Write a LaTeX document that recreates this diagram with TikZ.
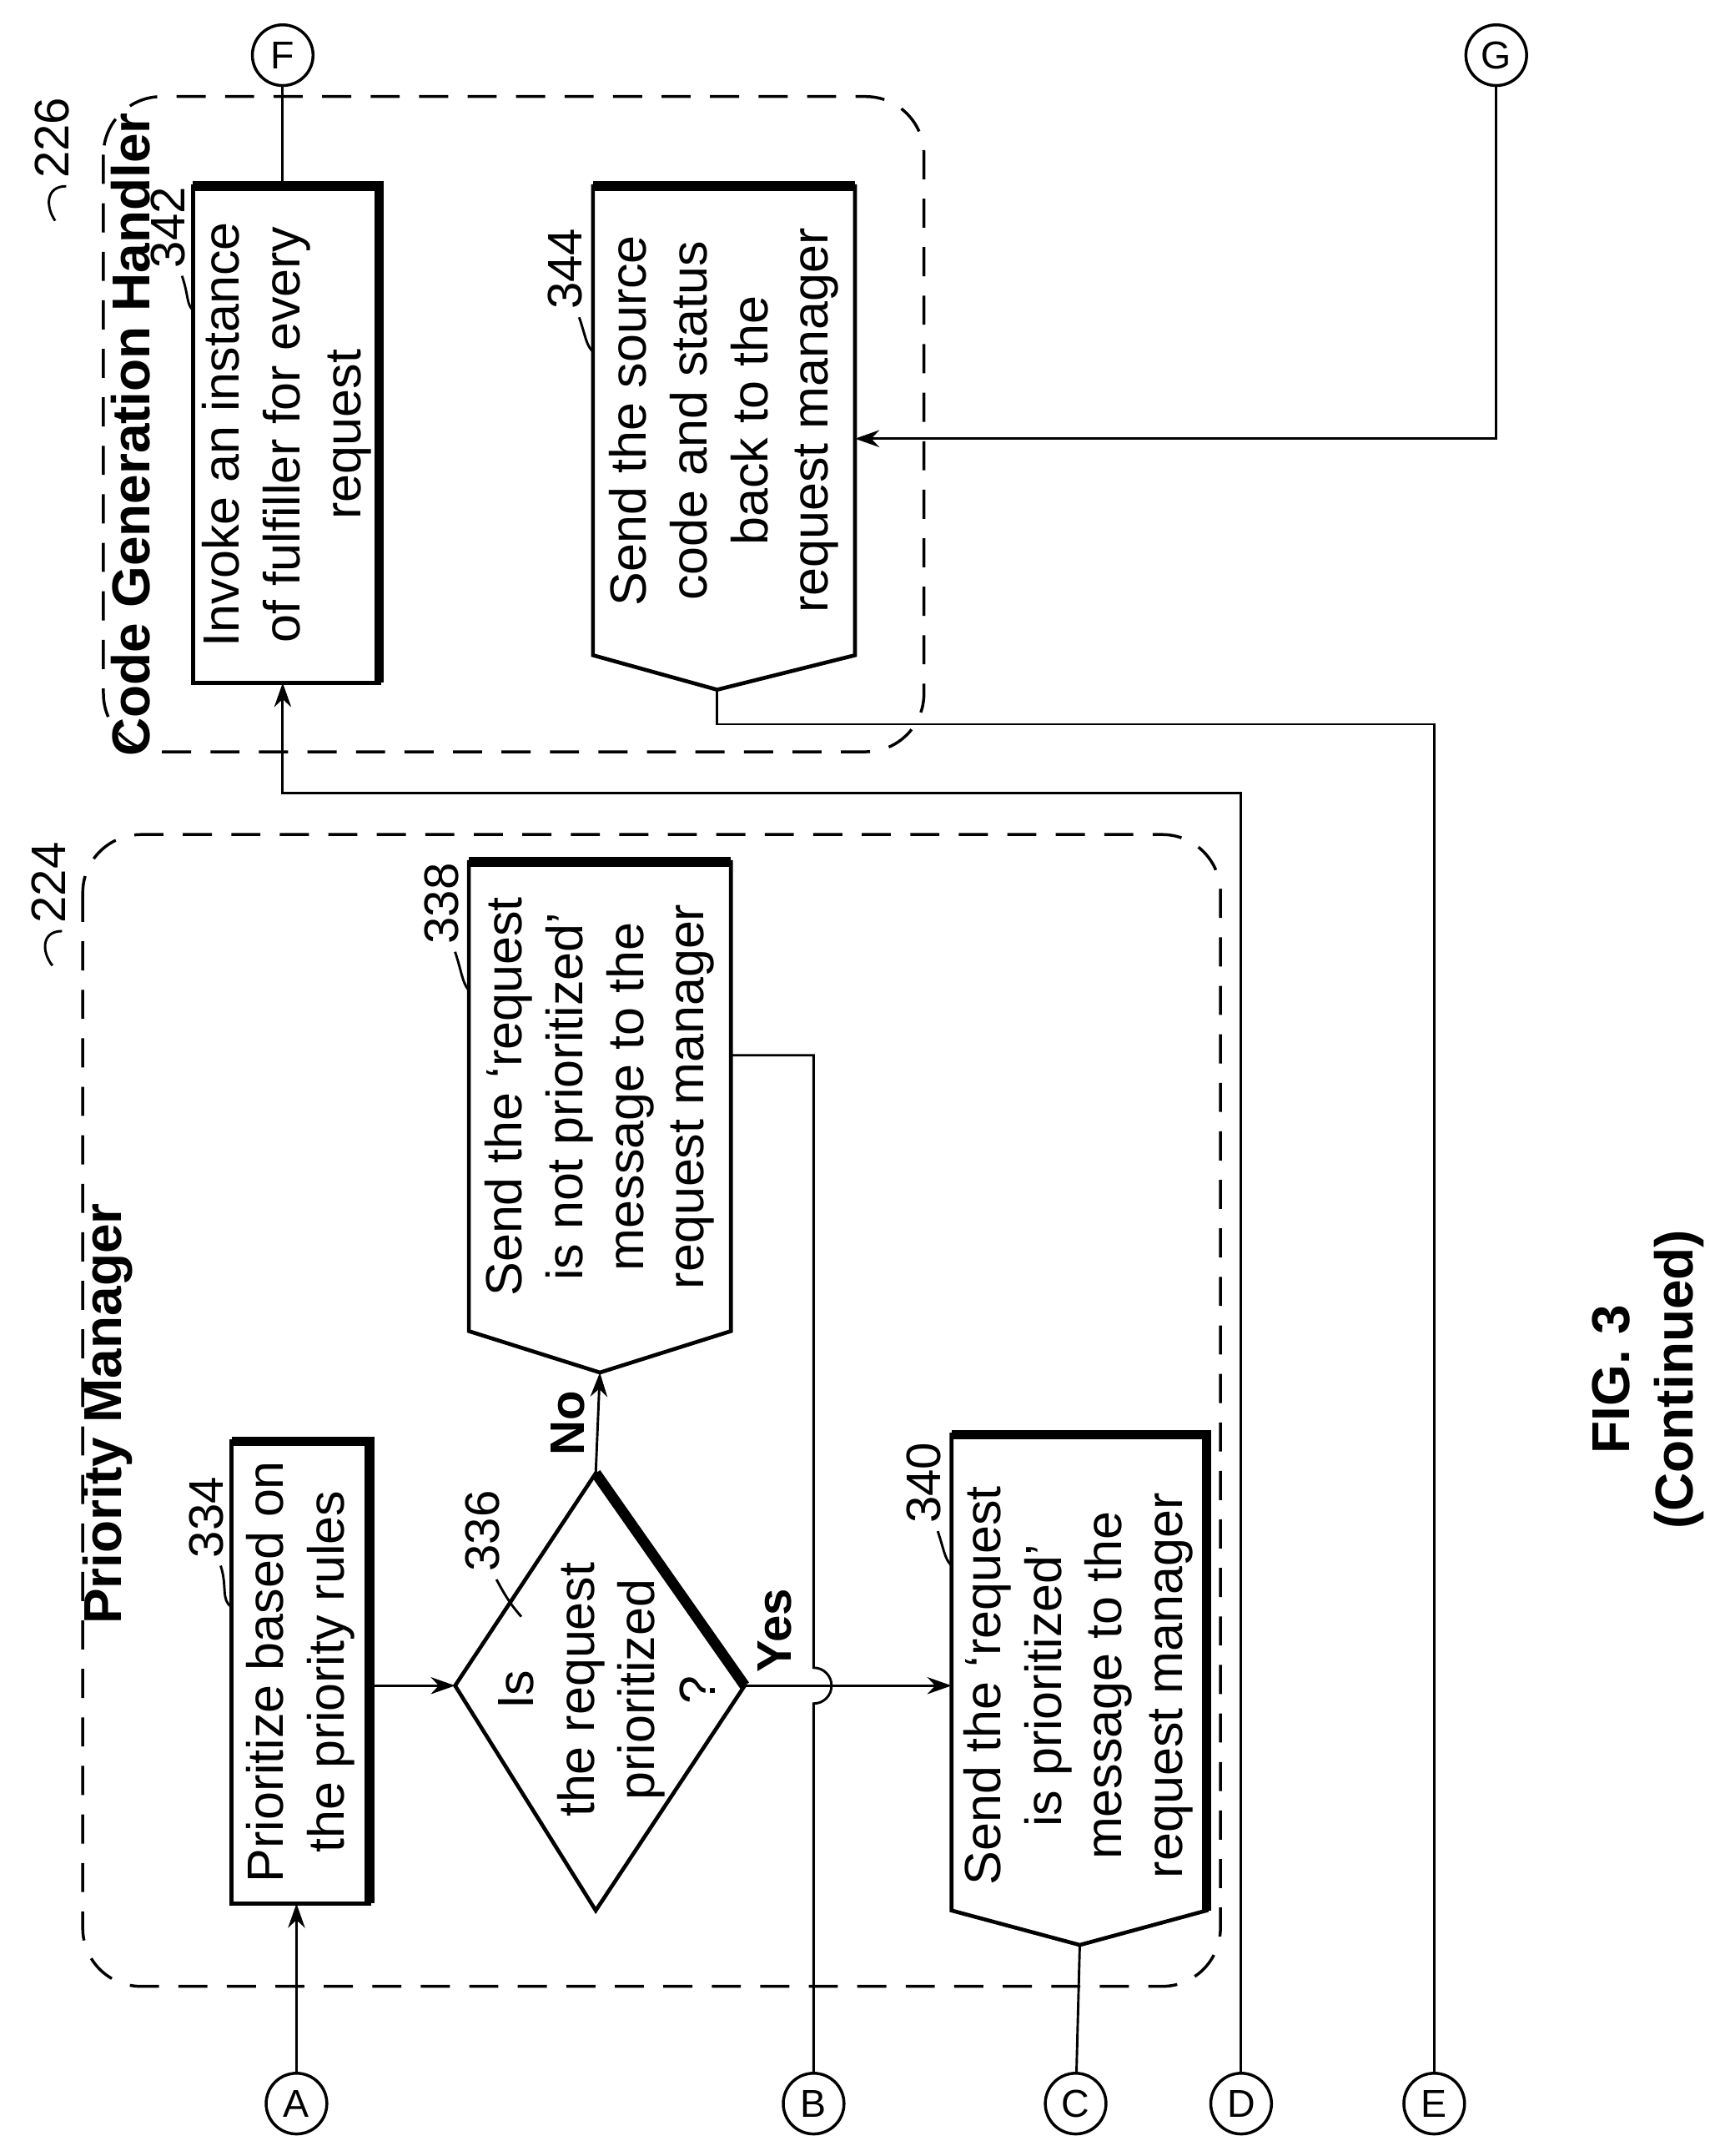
\documentclass[tikz,border=0pt]{standalone}
\usepackage{fontspec}
\setmainfont{Liberation Sans}
\usetikzlibrary{arrows.meta}
\begin{document}
\begin{tikzpicture}[x=0.01cm,y=-0.01cm,
  txt/.style={rotate=90,align=center,font=\fontsize{10.5}{12.5}\selectfont},
  lbl/.style={rotate=90,font=\fontsize{10}{12}\selectfont},
  ttl/.style={rotate=90,font=\bfseries\fontsize{11}{13}\selectfont},
  box/.style={line width=0.8pt},
  ln/.style={line width=0.5pt},
  arr/.style={ln,-{Stealth[length=5pt,width=3.5pt]}},
  grp/.style={dashed,line width=0.6pt,dash pattern=on 6pt off 4pt,rounded corners=12pt},
  circ/.style={circle,draw,line width=0.6pt,minimum size=0.44cm,inner sep=0pt,font=\fontsize{8}{9}\selectfont}]
\useasboundingbox (0,0) rectangle (1240,1563);
% groups
\draw[grp] (60,605) rectangle (885,1440);
\draw[grp] (75,70) rectangle (670,545);
\node[ttl] (pmt) at (78,1025) {Priority Manager};
\node[ttl] (cgt) at (95,315) {Code Generation Handler};
\node[lbl] (l224) at (35,640) {224};
\draw[ln] (45,675) .. controls (30,675) and (30,690) .. (38,700);
\node[lbl] (l226) at (38,100) {226};
\draw[ln] (48,135) .. controls (33,135) and (33,150) .. (40,160);
% connectors circles
\node[circ] (A) at (215,1525) {A};
\node[circ] (B) at (590,1525) {B};
\node[circ] (C) at (780,1525) {C};
\node[circ] (D) at (900,1525) {D};
\node[circ] (E) at (1040,1525) {E};
\node[circ] (F) at (205,40) {F};
\node[circ] (G) at (1085,40) {G};
% 334
\draw[box] (168,1045) rectangle (268,1380);
\draw[line width=2pt] (168,1045) -- (268,1045) -- (268,1380);
\node[txt] (n334) at (218,1212) {Prioritize based on\\the priority rules};
\node[lbl] (l334) at (150,1100) {334};
\draw[ln] (160,1135) .. controls (165,1150) and (160,1160) .. (168,1165);
% diamond 336
\draw[box] (330,1222) -- (432,1068) -- (540,1222) -- (432,1385) -- cycle;
\draw[line width=2.2pt] (432,1068) -- (540,1222);
\coordinate (dl) at (330,1222); \coordinate (dt) at (432,1068); \coordinate (dr) at (540,1222);
\node[txt] (n336) at (440,1225) {Is\\the request\\prioritized\\?};
\node[lbl] (l336) at (350,1110) {336};
\draw[ln] (360,1145) .. controls (368,1160) and (372,1165) .. (378,1172);
% 338
\draw[box] (340,625) -- (530,625) -- (530,965) -- (435,995) -- (340,965) -- cycle;
\draw[line width=2pt] (340,625) -- (530,625);
\coordinate (p338) at (435,995); \coordinate (r338) at (530,765);
\node[txt] (n338) at (435,795) {Send the `request\\is not prioritized'\\message to the\\request manager};
\node[lbl] (l338) at (320,655) {338};
\draw[ln] (330,690) .. controls (335,705) and (335,712) .. (340,718);
% 340
\draw[box] (690,1040) -- (875,1040) -- (875,1385) -- (783,1410) -- (690,1385) -- cycle;
\draw[line width=2pt] (690,1040) -- (875,1040) -- (875,1385);
\coordinate (l340) at (690,1222); \coordinate (p340) at (783,1410);
\node[txt] (n340) at (782,1222) {Send the `request\\is prioritized'\\message to the\\request manager};
\node[lbl] (lb340) at (670,1075) {340};
\draw[ln] (680,1110) .. controls (685,1125) and (685,1130) .. (690,1135);
% 342
\draw[box] (140,135) rectangle (275,495);
\draw[line width=2pt] (140,135) -- (275,135) -- (275,495);
\node[txt] (n342) at (208,315) {Invoke an instance\\of fulfiller for every\\request};
\node[lbl] (l342) at (122,165) {342};
\draw[ln] (132,200) .. controls (137,215) and (135,220) .. (140,225);
% 344
\draw[box] (430,135) -- (620,135) -- (620,475) -- (520,500) -- (430,475) -- cycle;
\draw[line width=2pt] (430,135) -- (620,135);
\coordinate (p344) at (520,500); \coordinate (r344) at (620,318);
\node[txt] (n344) at (525,305) {Send the source\\code and status\\back to the\\request manager};
\node[lbl] (l344) at (410,195) {344};
\draw[ln] (420,230) .. controls (425,245) and (425,250) .. (430,255);
% connectors
\draw[arr] (A) -- (215,1380);
\draw[arr] (268,1222) -- (dl);
\draw[arr] (dt) -- (p338);
\node[rotate=90,font=\bfseries\fontsize{10}{12}\selectfont] (no) at (412,1032) {No};
\node[rotate=90,font=\bfseries\fontsize{10}{12}\selectfont] (yes) at (562,1182) {Yes};
\draw[arr] (dr) -- (l340);
\draw[ln] (B) -- (590,1235) arc[start angle=90,end angle=-90,radius=13] -- (590,765) -- (r338);
\draw[ln] (C) -- (p340);
\draw[arr] (D) -- (900,575) -- (205,575) -- (205,495);
\draw[ln] (205,135) -- (F);
\draw[ln] (p344) -- (520,525) -- (1040,525) -- (E);
\draw[arr] (G) -- (1085,318) -- (r344);
% caption
\node[rotate=90,align=center,font=\bfseries\fontsize{11}{13}\selectfont] (cap) at (1195,1000) {FIG. 3\\(Continued)};
\end{tikzpicture}
\end{document}
